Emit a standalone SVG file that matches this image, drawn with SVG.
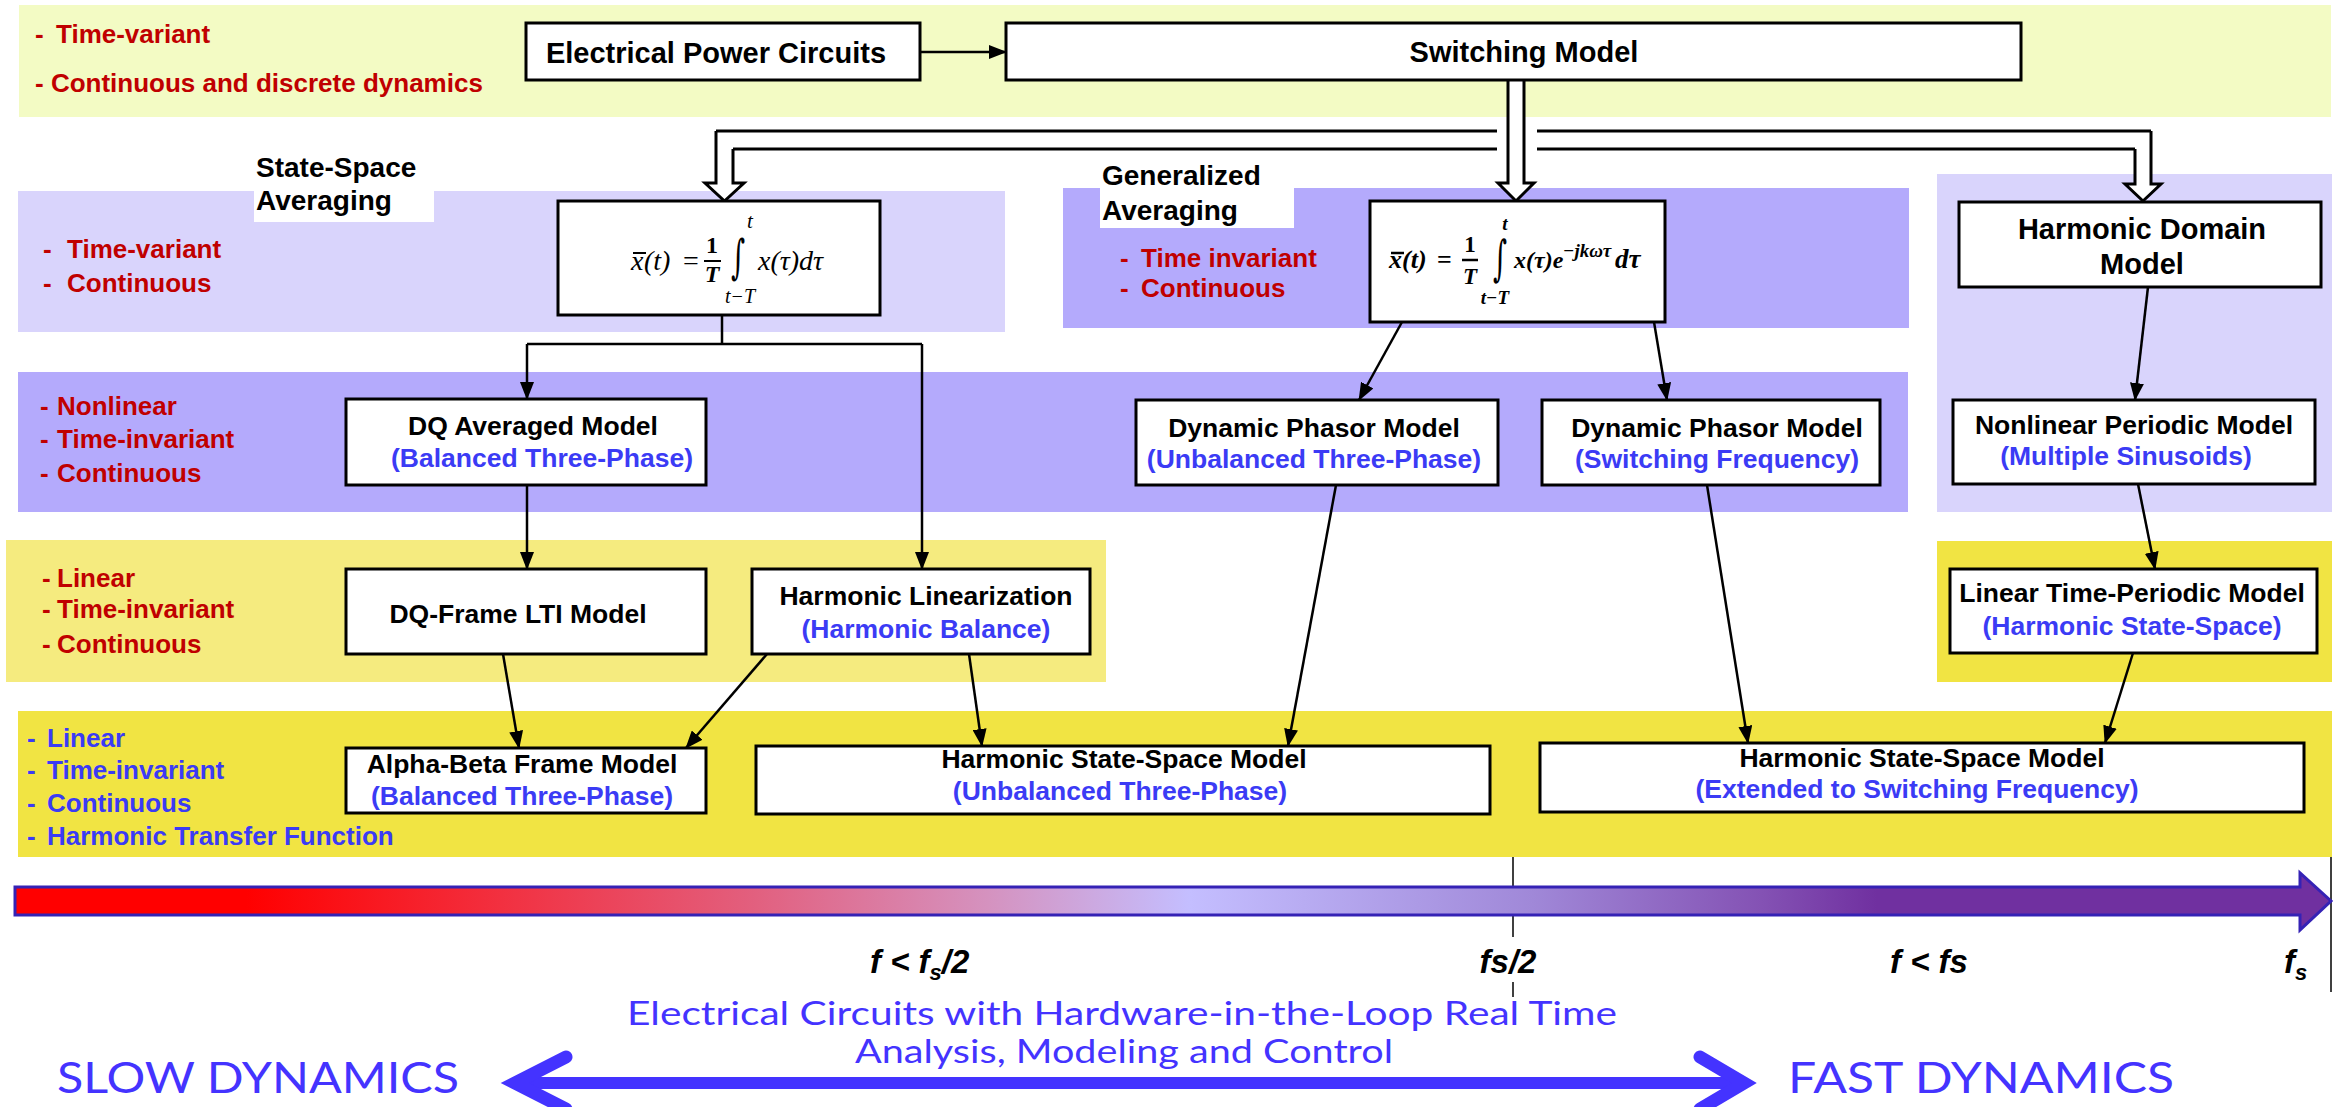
<svg xmlns="http://www.w3.org/2000/svg" width="2348" height="1107" viewBox="0 0 2348 1107">
<defs>
<style>
.bx{fill:#fff;stroke:#000;stroke-width:3}
.t{font-family:"Liberation Sans",Arial,sans-serif;font-weight:bold;font-size:26.5px;text-anchor:middle;fill:#000}
.tb{font-family:"Liberation Sans",Arial,sans-serif;font-weight:bold;font-size:29px;fill:#000}
.s{fill:#3B3BF5}
.lr{font-family:"Liberation Sans",Arial,sans-serif;font-weight:bold;font-size:26px;fill:#C00000}
.lb{font-family:"Liberation Sans",Arial,sans-serif;font-weight:bold;font-size:26px;fill:#3B3BF5}
.cn{fill:none;stroke:#000;stroke-width:2.5;marker-end:url(#ah)}
.ho{fill:#fff;stroke:#000;stroke-width:3;stroke-linejoin:miter}
.hl{fill:none;stroke:#000;stroke-width:3}
.m1{font-family:"Liberation Serif","Times New Roman",serif;font-style:italic;font-size:28px;fill:#000}
.m2{font-family:"Liberation Serif","Times New Roman",serif;font-style:italic;font-weight:bold;font-size:24px;fill:#000}
.ig{font-family:"DejaVu Serif",serif;font-size:36px;text-anchor:middle;fill:#000}
.fq{font-family:"Liberation Sans",Arial,sans-serif;font-weight:bold;font-style:italic;font-size:33px;fill:#000}
.bt{font-family:Lato,"Open Sans",sans-serif;fill:#4433FF}
</style>
<marker id="ah" markerUnits="userSpaceOnUse" markerWidth="18" markerHeight="14" viewBox="0 0 18 14" refX="17" refY="7" orient="auto"><path d="M0,0 L18,7 L0,14 z" fill="#000"/></marker>
<linearGradient id="grad" gradientUnits="userSpaceOnUse" x1="15" y1="0" x2="2331" y2="0">
<stop offset="0" stop-color="#FF0000"/>
<stop offset="0.10" stop-color="#FF0000"/>
<stop offset="0.21" stop-color="#F23040"/>
<stop offset="0.32" stop-color="#E2607F"/>
<stop offset="0.42" stop-color="#D592BF"/>
<stop offset="0.507" stop-color="#C4BEFF"/>
<stop offset="0.655" stop-color="#A088D8"/>
<stop offset="0.754" stop-color="#8452B4"/>
<stop offset="0.804" stop-color="#7030A0"/>
<stop offset="1" stop-color="#7030A0"/>
</linearGradient>
</defs>

<g id="bands">
<rect x="19" y="5" width="2312" height="112" fill="#F3FBC4"/>
<rect x="18" y="191" width="987" height="141" fill="#D9D4FC"/>
<rect x="1063" y="188" width="846" height="140" fill="#B4AAFC"/>
<rect x="1937" y="174" width="395" height="338" fill="#D9D4FC"/>
<rect x="18" y="372" width="1890" height="140" fill="#B4AAFC"/>
<rect x="6" y="540" width="1100" height="142" fill="#F5EB7F"/>
<rect x="1937" y="541" width="395" height="141" fill="#F1E443"/>
<rect x="18" y="711" width="2314" height="146" fill="#F1E443"/>
</g>

<g id="labels">
<text class="lr" y="43"><tspan x="35">-</tspan><tspan x="56">Time-variant</tspan></text>
<text class="lr" x="35" y="92">- Continuous and discrete dynamics</text>
<rect x="254" y="191" width="180" height="31" fill="#fff"/>
<text class="tb" x="256" y="177" style="font-size:28px">State-Space</text>
<text class="tb" x="256" y="210" style="font-size:28px">Averaging</text>
<text class="lr" y="258"><tspan x="43">-</tspan><tspan x="67">Time-variant</tspan></text>
<text class="lr" y="292"><tspan x="43">-</tspan><tspan x="67">Continuous</tspan></text>
<rect x="1100" y="188" width="194" height="40" fill="#fff"/>
<text class="tb" x="1102" y="185" style="font-size:28px">Generalized</text>
<text class="tb" x="1102" y="220" style="font-size:28px">Averaging</text>
<text class="lr" y="267"><tspan x="1120">-</tspan><tspan x="1141">Time invariant</tspan></text>
<text class="lr" y="297"><tspan x="1120">-</tspan><tspan x="1141">Continuous</tspan></text>
<text class="lr" y="415"><tspan x="40">-</tspan><tspan x="57">Nonlinear</tspan></text>
<text class="lr" y="448"><tspan x="40">-</tspan><tspan x="57">Time-invariant</tspan></text>
<text class="lr" y="482"><tspan x="40">-</tspan><tspan x="57">Continuous</tspan></text>
<text class="lr" y="587"><tspan x="42">-</tspan><tspan x="57">Linear</tspan></text>
<text class="lr" y="618"><tspan x="42">-</tspan><tspan x="57">Time-invariant</tspan></text>
<text class="lr" y="653"><tspan x="42">-</tspan><tspan x="57">Continuous</tspan></text>
<text class="lb" y="747"><tspan x="27">-</tspan><tspan x="47">Linear</tspan></text>
<text class="lb" y="779"><tspan x="27">-</tspan><tspan x="47">Time-invariant</tspan></text>
<text class="lb" y="812"><tspan x="27">-</tspan><tspan x="47">Continuous</tspan></text>
<text class="lb" y="845"><tspan x="27">-</tspan><tspan x="47">Harmonic Transfer Function</tspan></text>
</g>

<g id="connectors">
<line x1="920" y1="52" x2="1006" y2="52" class="cn"/>
<path class="ho" d="M716,131 V183 H705 L724.5,201 L744,183 H733 V149"/>
<path class="ho" d="M2151,131 V184 H2161 L2143,201 L2125,184 H2135 V149"/>
<path class="hl" d="M716,131 H1497 M1537,131 H2151 M733,149 H1497 M1537,149 H2135"/>
<path class="ho" d="M1508,81 V183 H1498 L1516,201 L1534,183 H1524 V81"/>
<path class="cn" d="M722,315 V344 M527,344 H922" style="marker-end:none"/>
<path class="cn" d="M527,344 V399"/>
<path class="cn" d="M922,344 V569"/>
<path class="cn" d="M1402,322 L1359,400"/>
<path class="cn" d="M1654,322 L1667,400"/>
<path class="cn" d="M2148,287 L2135,400"/>
<path class="cn" d="M527,485 V569"/>
<path class="cn" d="M503,654 L519,748"/>
<path class="cn" d="M767,654 L686,748"/>
<path class="cn" d="M969,654 L982,746"/>
<path class="cn" d="M1336,485 L1288,746"/>
<path class="cn" d="M1707,485 L1748,743"/>
<path class="cn" d="M2138,484 L2155,569"/>
<path class="cn" d="M2133,653 L2105,743"/>
</g>

<g id="n-epc"><rect class="bx" x="526" y="23" width="394" height="57"/><text class="tb" x="716" y="63" text-anchor="middle">Electrical Power Circuits</text></g>
<g id="n-switch"><rect class="bx" x="1006" y="23" width="1015" height="57"/><text class="tb" x="1524" y="62" text-anchor="middle">Switching Model</text></g>

<g id="n-ssa"><rect class="bx" x="558" y="201" width="322" height="114"/>
<text class="m1" x="631" y="270">x</text><line x1="633" y1="253" x2="646" y2="253" stroke="#000" stroke-width="2"/>
<text class="m1" x="644" y="270">(t)</text>
<text class="m1" x="683" y="270" style="font-style:normal">=</text>
<text class="m1" x="712" y="253" text-anchor="middle" style="font-size:24px;font-weight:bold;font-style:normal">1</text>
<line x1="704" y1="261" x2="721" y2="261" stroke="#000" stroke-width="2"/>
<text class="m1" x="712" y="282" text-anchor="middle" style="font-size:24px;font-weight:bold">T</text>
<text class="ig" transform="translate(738,273) scale(0.75,1.3)">∫</text>
<text class="m1" x="750" y="228" text-anchor="middle" style="font-size:21px">t</text>
<text class="m1" x="740" y="303" text-anchor="middle" style="font-size:20px">t−T</text>
<text class="m1" x="758" y="270">x(τ)dτ</text>
</g>

<g id="n-ga"><rect class="bx" x="1370" y="201" width="295" height="121"/>
<text class="m2" x="1389" y="268" style="font-size:26px">x</text><line x1="1391" y1="253" x2="1404" y2="253" stroke="#000" stroke-width="2.5"/>
<text class="m2" x="1402" y="268" style="font-size:26px">(t)</text>
<text class="m2" x="1437" y="268" style="font-style:normal;font-size:26px">=</text>
<text class="m2" x="1470" y="252" text-anchor="middle" style="font-style:normal;font-size:23px">1</text>
<line x1="1462" y1="260" x2="1478" y2="260" stroke="#000" stroke-width="2.5"/>
<text class="m2" x="1470" y="284" text-anchor="middle" style="font-size:23px">T</text>
<text class="ig" transform="translate(1500,275) scale(0.75,1.35)">∫</text>
<text class="m2" x="1505" y="230" text-anchor="middle" style="font-size:19px">t</text>
<text class="m2" x="1495" y="304" text-anchor="middle" style="font-size:19px">t−T</text>
<text class="m2" x="1514" y="268">x(τ)e</text>
<text class="m2" x="1563" y="257" style="font-size:19px">−jkωτ</text>
<text class="m2" x="1615" y="268" style="font-size:27px">dτ</text>
</g>

<g id="n-hdm"><rect class="bx" x="1959" y="202" width="362" height="85"/><text class="tb" x="2142" y="239" text-anchor="middle">Harmonic Domain</text><text class="tb" x="2142" y="274" text-anchor="middle">Model</text></g>
<g id="n-dqavg"><rect class="bx" x="346" y="399" width="360" height="86"/><text class="t" x="533" y="435">DQ Averaged Model</text><text class="t s" x="542" y="467">(Balanced Three-Phase)</text></g>
<g id="n-dp1"><rect class="bx" x="1136" y="400" width="362" height="85"/><text class="t" x="1314" y="437">Dynamic Phasor Model</text><text class="t s" x="1314" y="468">(Unbalanced Three-Phase)</text></g>
<g id="n-dp2"><rect class="bx" x="1542" y="400" width="338" height="85"/><text class="t" x="1717" y="437">Dynamic Phasor Model</text><text class="t s" x="1717" y="468">(Switching Frequency)</text></g>
<g id="n-npm"><rect class="bx" x="1953" y="400" width="362" height="84"/><text class="t" x="2134" y="434">Nonlinear Periodic Model</text><text class="t s" x="2126" y="465">(Multiple Sinusoids)</text></g>
<g id="n-dqlti"><rect class="bx" x="346" y="569" width="360" height="85"/><text class="t" x="518" y="623">DQ-Frame LTI Model</text></g>
<g id="n-hl"><rect class="bx" x="752" y="569" width="338" height="85"/><text class="t" x="926" y="605">Harmonic Linearization</text><text class="t s" x="926" y="638">(Harmonic Balance)</text></g>
<g id="n-ltp"><rect class="bx" x="1950" y="569" width="367" height="84"/><text class="t" x="2132" y="602">Linear Time-Periodic Model</text><text class="t s" x="2132" y="635">(Harmonic State-Space)</text></g>
<g id="n-ab"><rect class="bx" x="346" y="748" width="360" height="65"/><text class="t" x="522" y="773">Alpha-Beta Frame Model</text><text class="t s" x="522" y="805">(Balanced Three-Phase)</text></g>
<g id="n-hss1"><rect class="bx" x="756" y="746" width="734" height="68"/><text class="t" x="1124" y="768">Harmonic State-Space Model</text><text class="t s" x="1120" y="800">(Unbalanced Three-Phase)</text></g>
<g id="n-hss2"><rect class="bx" x="1540" y="743" width="764" height="69"/><text class="t" x="1922" y="767">Harmonic State-Space Model</text><text class="t s" x="1917" y="798">(Extended to Switching Frequency)</text></g>

<g id="axis">
<line x1="1513" y1="857" x2="1513" y2="937" stroke="#000" stroke-width="1.5"/>
<line x1="1513" y1="982" x2="1513" y2="997" stroke="#000" stroke-width="1.5"/>
<line x1="2331" y1="857" x2="2331" y2="992" stroke="#000" stroke-width="1.5"/>
<path d="M15,887 H2300 V873 L2331,901 L2300,930 V915 H15 Z" fill="url(#grad)" stroke="#3522B5" stroke-width="3"/>
<text class="fq" x="870" y="973">f &lt; f<tspan dy="7" style="font-size:22px">s</tspan><tspan dy="-7">/2</tspan></text>
<text class="fq" x="1508" y="973" text-anchor="middle">fs/2</text>
<text class="fq" x="1890" y="973">f &lt; fs</text>
<text class="fq" x="2284" y="973">f<tspan dy="7" style="font-size:22px">s</tspan></text>
<text class="bt" x="1122" y="1025" text-anchor="middle" style="font-size:33px" textLength="990" lengthAdjust="spacingAndGlyphs">Electrical Circuits with Hardware-in-the-Loop Real Time</text>
<text class="bt" x="1124" y="1063" text-anchor="middle" style="font-size:33px" textLength="538" lengthAdjust="spacingAndGlyphs">Analysis, Modeling and Control</text>
<text class="bt" x="57" y="1093" style="font-size:42px" textLength="402" lengthAdjust="spacingAndGlyphs">SLOW DYNAMICS</text>
<text class="bt" x="1788" y="1093" style="font-size:42px" textLength="386" lengthAdjust="spacingAndGlyphs">FAST DYNAMICS</text>
<path d="M525,1083 H1735" stroke="#4433FF" stroke-width="12" fill="none"/>
<path d="M566,1057 L515,1083 L566,1109 M1700,1057 L1744,1083 L1700,1109" stroke="#4433FF" stroke-width="13" fill="none" stroke-linecap="round" stroke-linejoin="miter"/>
</g>
</svg>
